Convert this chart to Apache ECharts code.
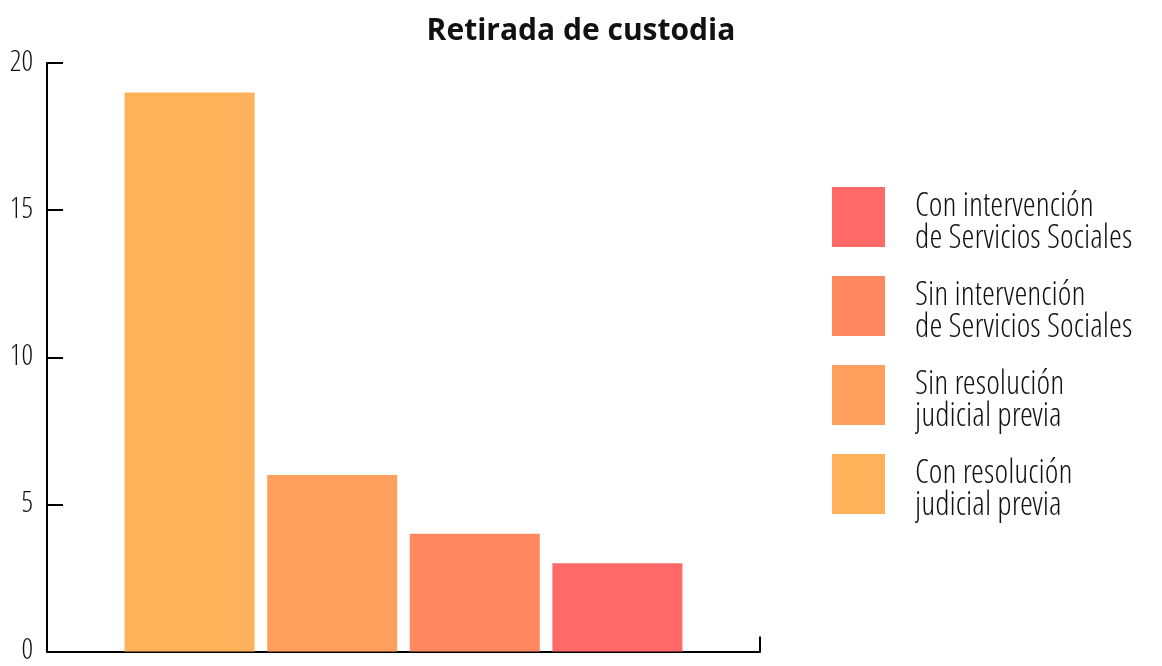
<!DOCTYPE html>
<html>
<head>
<meta charset="utf-8">
<script src="https://cdn.jsdelivr.net/npm/echarts@6/dist/echarts.min.js"></script>
<style>
  html, body { margin: 0; padding: 0; background: #fff; }
  #chart { width: 1162px; height: 666px; }
</style>
</head>
<body>
<div id="chart"></div>
<script>
// datos
var names = ['Con resolución\njudicial previa', 'Sin resolución\njudicial previa', 'Sin intervención\nde Servicios Sociales', 'Con intervención\nde Servicios Sociales'];
var positions = [1, 2, 3, 4];
var values = [19, 6, 4, 3];
var colors = ['#FFB25A', '#FF9F5E', '#FF8860', '#FF6A68'];
var yTicks = [0, 5, 10, 15, 20];

var lightFont = "'Open Sans Condensed Light', 'Open Sans', sans-serif";
var titleFont = "'Open Sans', sans-serif";

var chart = echarts.init(document.getElementById('chart'));

// una serie por categoría para la leyenda, superpuestas con barGap -100%
var series = names.map(function (n, i) {
    return {
        name: n,
        type: 'bar',
        barWidth: 130,
        barGap: '-100%',
        itemStyle: { color: colors[i] },
        data: [[positions[i], values[i]]]
    };
});

var option = {
    animation: false,
    title: {
        text: 'Retirada de custodia',
        left: 'center',
        top: 11,
        textStyle: { fontFamily: titleFont, fontWeight: 'bold', fontSize: 30, color: '#111' }
    },
    legend: {
        orient: 'vertical',
        left: 832,
        top: 187,
        padding: 0,
        itemWidth: 53,
        itemHeight: 72,
        itemGap: 17,
        // cuadrado 53x60; el punto suelto alarga la caja para bajar un poco el texto
        icon: 'path://M0,0L53,0L53,60L0,60Z M0,72',
        data: names.slice().reverse(),
        textStyle: { fontFamily: lightFont, fontSize: 33, lineHeight: 32, color: '#111', padding: [0, 0, 0, 25] }
    },
    grid: { left: 47, right: 402, top: 63, bottom: 11 },
    xAxis: {
        type: 'value',
        min: 0,
        max: 5,
        interval: 5,
        splitLine: { show: false },
        axisLabel: { show: false },
        axisLine: { lineStyle: { color: '#000', width: 2 } },
        axisTick: { inside: true, length: 15, lineStyle: { color: '#000', width: 2 } }
    },
    yAxis: {
        type: 'value',
        min: yTicks[0],
        max: yTicks[yTicks.length - 1],
        interval: 5,
        splitLine: { show: false },
        axisLine: { show: true, lineStyle: { color: '#000', width: 2 } },
        axisTick: { show: true, inside: true, length: 16, lineStyle: { color: '#000', width: 2 } },
        axisLabel: { margin: 14, fontFamily: lightFont, fontSize: 29, color: '#111' }
    },
    series: series
};

chart.setOption(option);
</script>
</body>
</html>
